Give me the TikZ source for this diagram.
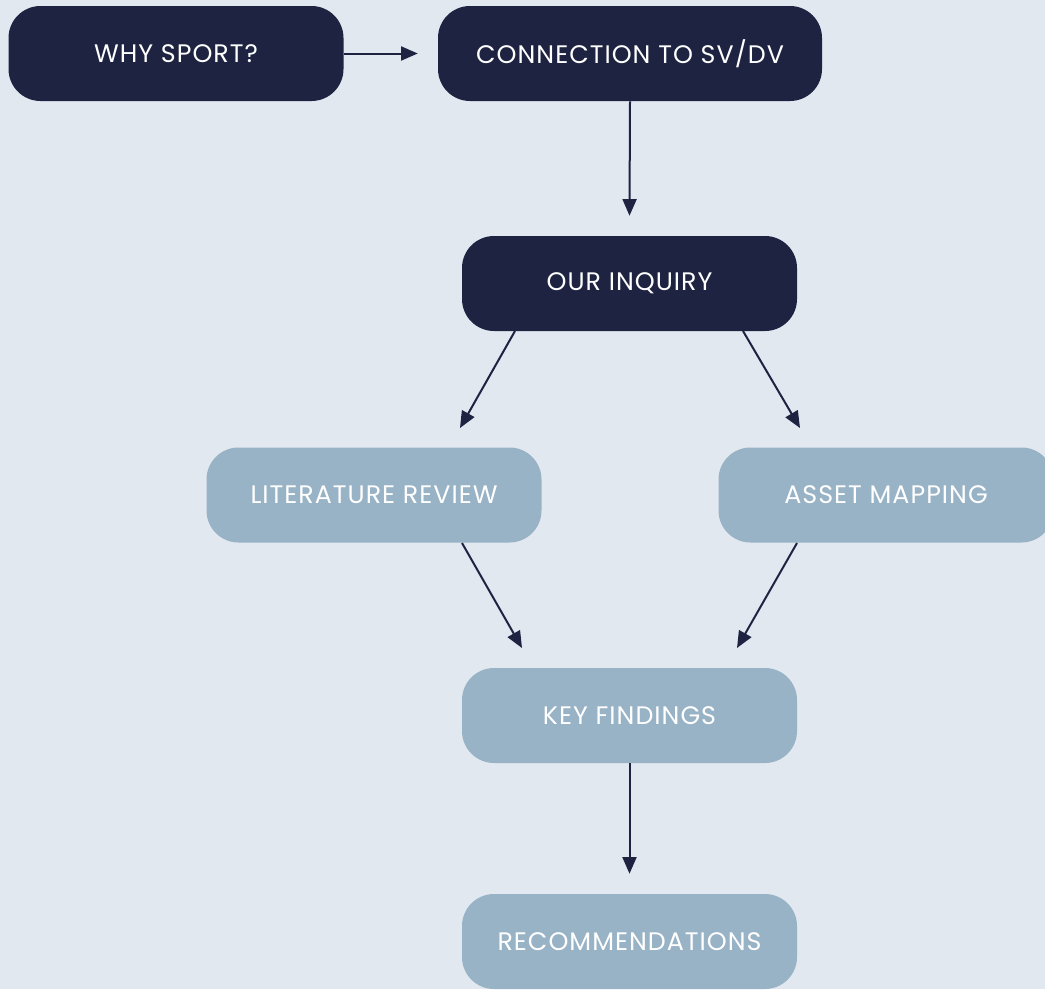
\documentclass[tikz,border=0pt]{standalone}
\usepackage{fontspec}
\setmainfont{Poppins}[LetterSpace=4]
\usetikzlibrary{arrows.meta}
\definecolor{bg}{HTML}{E2E8F0}
\definecolor{navy}{HTML}{1D2341}
\definecolor{pale}{HTML}{98B2C6}
\tikzset{
  dbox/.style={fill=navy, rounded corners=24pt, minimum width=251.25pt, minimum height=71.25pt, text=white, font=\fontsize{19}{21}\selectfont, inner sep=0pt},
  lbox/.style={dbox, fill=pale},
  conn/.style={draw=navy, line width=1.5pt, -{Triangle[length=12.5pt,width=10.5pt]}}
}
\begin{document}
\begin{tikzpicture}[x=0.75pt,y=-0.75pt]
\fill[bg] (0,0) rectangle (1045,989);
\useasboundingbox (0,0) rectangle (1045,989);
\begin{scope}
\clip (0,0) rectangle (1045,989);
\node[dbox] (why) at (176,53.5) {WHY SPORT?};
\node[dbox, minimum width=288pt] (conn) at (630,53.5) {CONNECTION TO SV/DV};
\node[dbox] (inq) at (629.5,283.5) {OUR INQUIRY};
\node[lbox] (lit) at (374,495) {LITERATURE REVIEW};
\node[lbox] (asset) at (886,495) {ASSET MAPPING};
\node[lbox] (key) at (629.5,715.5) {KEY FINDINGS};
\node[lbox] (rec) at (629.5,941.5) {RECOMMENDATIONS};
\coordinate (a1) at (515,331); \coordinate (a1e) at (460,428);
\coordinate (a2) at (743,331); \coordinate (a2e) at (800,428);
\coordinate (b1) at (462,543); \coordinate (b1e) at (522,648);
\coordinate (b2) at (797,543); \coordinate (b2e) at (737,648);
\draw[conn] (why.east) -- ([xshift=-15pt]conn.west);
\draw[conn] (conn.south) -- ([yshift=15pt]inq.north);
\draw[conn] (a1) -- (a1e);
\draw[conn] (a2) -- (a2e);
\draw[conn] (b1) -- (b1e);
\draw[conn] (b2) -- (b2e);
\draw[conn] (key.south) -- ([yshift=15pt]rec.north);
\end{scope}
\end{tikzpicture}
\end{document}
